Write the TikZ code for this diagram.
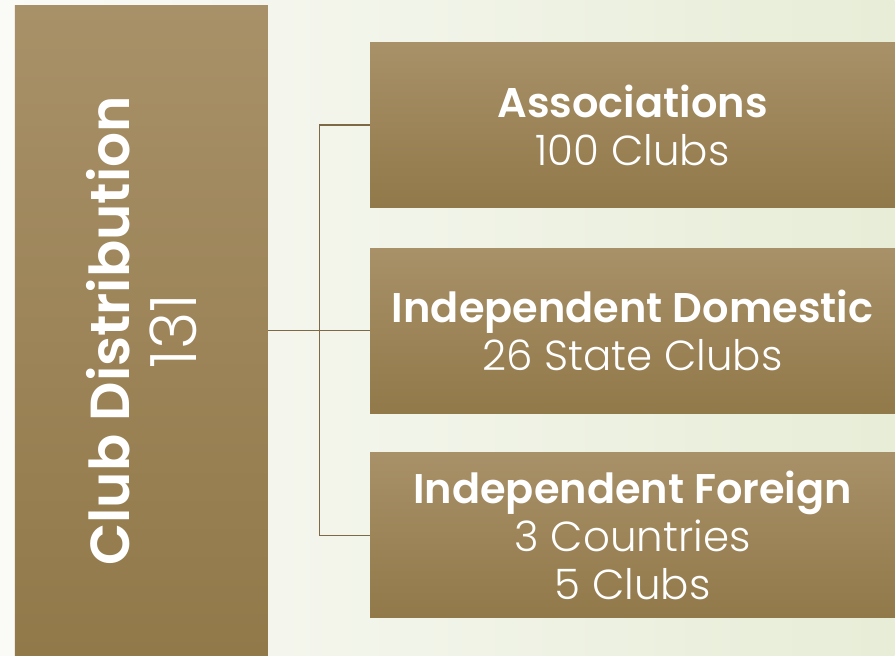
\documentclass[tikz,border=0pt]{standalone}
\usepackage{fontspec}
\setmainfont{Poppins}
\newfontfamily\thinfont{Poppins Light}
\newfontfamily\semifont{Poppins SemiBold}
\usetikzlibrary{calc,positioning}

\definecolor{boxtop}{RGB}{168,144,104}
\definecolor{boxbot}{RGB}{146,121,74}
\definecolor{wirecol}{RGB}{125,105,70}
\definecolor{bgleft}{RGB}{250,250,247}
\definecolor{bgright}{RGB}{231,237,215}

\newcommand\headline[1]{{\semifont\fontsize{41.5}{48}\selectfont #1}}

\begin{document}
\begin{tikzpicture}[
    x=1pt,y=-1pt,
    tbox/.style={inner sep=0pt,top color=boxtop,bottom color=boxbot,text=white,align=center},
    branch/.style={tbox,minimum width=525pt,minimum height=164.5pt,font=\thinfont\fontsize{42}{48}\selectfont},
    wire/.style={draw=wirecol,line width=1.1pt}
    ]

    % background
    \shade[left color=bgleft,right color=bgright] (0,0) rectangle (895,656);

    \node (main) [tbox,minimum width=253pt,minimum height=650pt] at (141.5,331) {};
    \node (mainlbl) [rotate=90,text=white,align=center,font=\thinfont\fontsize{64}{67}\selectfont]
      at (main.center) {{\semifont\fontsize{55}{67}\selectfont Club Distribution}\\131};

    \node (dom) [branch,right=102pt of main] {\headline{Independent Domestic}\\26 State Clubs};
    \node (assoc) [branch,above=41pt of dom] {\headline{Associations}\\100 Clubs};
    \node (foreign) [branch,below=39.5pt of dom] {\headline{Independent Foreign}\\3 Countries\\5 Clubs};

    \coordinate (hub) at ($(main.east)!.5!(dom.west)$);

    \draw[wire] (main.east) -- (dom.west);
    \draw[wire] (hub |- assoc.west) -- (hub |- foreign.west);
    \foreach \b in {assoc,foreign}
      \draw[wire] (hub |- \b.west) -- (\b.west);

\end{tikzpicture}
\end{document}
